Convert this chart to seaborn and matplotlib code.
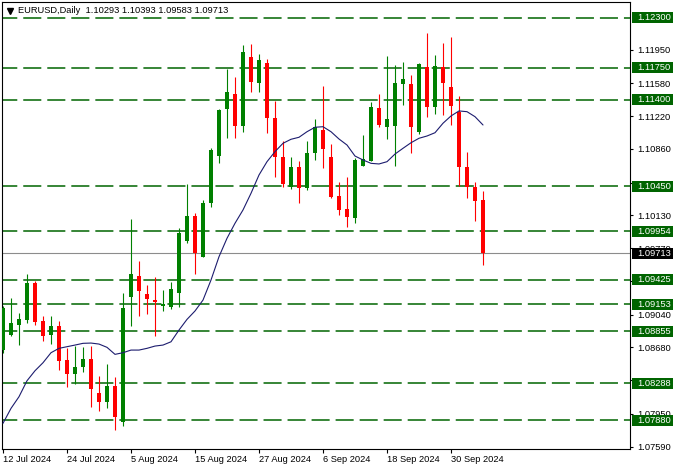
'''EURUSD daily candles with MA and levels'''
import pandas as pd
import matplotlib
matplotlib.use("Agg")
import matplotlib.pyplot as plt
import matplotlib.transforms as mtransforms
from matplotlib.patches import Rectangle
import seaborn as sns

# data (12 Jul 2024 .. 4 Oct 2024)
dates = pd.bdate_range("2024-07-12", "2024-10-04")
opens = [1.08652, 1.08816, 1.08926, 1.08981, 1.09390, 1.08970, 1.08816, 1.08915, 1.08542, 1.08388,
         1.08461, 1.08553, 1.08176, 1.08084, 1.08256, 1.07864, 1.09237, 1.09464, 1.09266, 1.09200,
         1.09135, 1.09127, 1.09280, 1.09851, 1.10123, 1.09676, 1.10262, 1.10785, 1.11294, 1.11462,
         1.11114, 1.11865, 1.11580, 1.11799, 1.11195, 1.10774, 1.10438, 1.10664, 1.10427, 1.10818,
         1.11067, 1.10774, 1.10342, 1.10200, 1.10104, 1.10675, 1.10730, 1.11305, 1.11103, 1.11111,
         1.11575, 1.11572, 1.11048, 1.11755, 1.11323, 1.11755, 1.11536, 1.11268, 1.10664, 1.10444,
         1.10293]
highs = [1.09135, 1.09226, 1.09061, 1.09486, 1.09412, 1.09025, 1.09025, 1.08970, 1.08677, 1.08695,
         1.08681, 1.08695, 1.08366, 1.08498, 1.08358, 1.09274, 1.10090, 1.09632, 1.09365, 1.09450,
         1.09310, 1.09395, 1.09988, 1.10474, 1.10159, 1.10298, 1.10866, 1.11298, 1.11737, 1.11646,
         1.12000, 1.12011, 1.11901, 1.11843, 1.11389, 1.10946, 1.10774, 1.10727, 1.10946, 1.11188,
         1.11550, 1.10913, 1.10493, 1.10554, 1.10756, 1.11012, 1.11371, 1.11462, 1.11879, 1.11781,
         1.11810, 1.11671, 1.11806, 1.12135, 1.11890, 1.12025, 1.12091, 1.11440, 1.10829, 1.10493,
         1.10393]
lows = [1.08615, 1.08805, 1.08706, 1.08945, 1.08926, 1.08753, 1.08717, 1.08432, 1.08248, 1.08278,
        1.08413, 1.08029, 1.07985, 1.08018, 1.07773, 1.07820, 1.08915, 1.09028, 1.09047, 1.08808,
        1.09083, 1.09098, 1.09127, 1.09823, 1.09486, 1.09676, 1.10218, 1.10708, 1.10982, 1.10976,
        1.11048, 1.11487, 1.11487, 1.11037, 1.10548, 1.10444, 1.10416, 1.10262, 1.10410, 1.10738,
        1.10646, 1.10320, 1.10134, 1.10005, 1.10049, 1.10675, 1.10730, 1.11097, 1.10965, 1.10675,
        1.11341, 1.10818, 1.11023, 1.11206, 1.11243, 1.11232, 1.11122, 1.10452, 1.10324, 1.10071,
        1.09583]
closes = [1.09109, 1.08951, 1.08992, 1.09390, 1.08962, 1.08805, 1.08915, 1.08534, 1.08388, 1.08461,
          1.08553, 1.08220, 1.08084, 1.08256, 1.07919, 1.09109, 1.09486, 1.09302, 1.09215, 1.09178,
          1.09156, 1.09321, 1.09933, 1.10123, 1.09720, 1.10269, 1.10847, 1.11287, 1.11484, 1.11114,
          1.11923, 1.11597, 1.11836, 1.11195, 1.10767, 1.10474, 1.10664, 1.10427, 1.10811, 1.11103,
          1.10855, 1.10335, 1.10189, 1.10115, 1.10738, 1.10749, 1.11316, 1.11122, 1.11184, 1.11580,
          1.11624, 1.11103, 1.11792, 1.11323, 1.11770, 1.11580, 1.11334, 1.10664, 1.10438, 1.10291,
          1.09713]
ma = [1.07847, 1.08011, 1.08139, 1.08314, 1.08424, 1.08512, 1.08622, 1.08670, 1.08688, 1.08706,
      1.08725, 1.08728, 1.08717, 1.08681, 1.08604, 1.08622, 1.08651, 1.08651, 1.08670, 1.08695,
      1.08706, 1.08742, 1.08871, 1.08988, 1.09080, 1.09200, 1.09420, 1.09676, 1.09878, 1.10043,
      1.10189, 1.10372, 1.10573, 1.10719, 1.10829, 1.10921, 1.10965, 1.10987, 1.11048, 1.11097,
      1.11103, 1.11048, 1.10968, 1.10902, 1.10781, 1.10738, 1.10701, 1.10694, 1.10719, 1.10803,
      1.10866, 1.10927, 1.10976, 1.11001, 1.11037, 1.11141, 1.11221, 1.11276, 1.11268, 1.11213,
      1.11122]

levels = [1.12300, 1.11750, 1.11400, 1.10450, 1.09954, 1.09425, 1.09153, 1.08855, 1.08288, 1.07880]
price_ticks = [1.11950, 1.11580, 1.11220, 1.10860, 1.10490, 1.10130, 1.09770, 1.09410,
               1.09040, 1.08680, 1.08320, 1.07950, 1.07590]
# scale labels that sit fully under a level box are not drawn
hidden_ticks = [1.10490, 1.09410, 1.08320]
date_ticks = [0, 8, 16, 24, 32, 40, 48, 56]
date_labels = ["12 Jul 2024", "24 Jul 2024", "5 Aug 2024", "15 Aug 2024",
               "27 Aug 2024", "6 Sep 2024", "18 Sep 2024", "30 Sep 2024"]

df = pd.DataFrame({"date": dates, "open": opens, "high": highs, "low": lows,
                   "close": closes, "ma": ma})
df["idx"] = range(len(df))

sns.set_style("white")
plt.rcParams["font.family"] = ["Liberation Sans", "DejaVu Sans"]
plt.rcParams["lines.scale_dashes"] = False

GREEN = "#008000"
RED = "#ff0000"
LEVEL = "#006400"
FS = 6.7

fig = plt.figure(figsize=(6.76, 4.70), dpi=100)
ax = fig.add_axes([2 / 676, 21 / 470, 628 / 676, 447 / 470])
ymin, ymax = 1.07565, 1.12472
ax.set_xlim(-0.125, 78.375)
ax.set_ylim(ymin, ymax)
px = (ymax - ymin) / 447

# levels and current price
for lv in levels:
    ax.axhline(lv, color=LEVEL, lw=1.1, ls=(2, (13, 4.3)), zorder=1)
ax.axhline(closes[-1], color="#8c8c8c", lw=0.8, zorder=1)

# candles
up = df["close"] >= df["open"]
cols = [GREEN if u else RED for u in up]
ax.vlines(df["idx"], df["low"], df["high"], colors=cols, lw=0.8, zorder=2)
body_lo = df[["open", "close"]].min(axis=1)
body_h = (df["close"] - df["open"]).abs().clip(lower=px)
ax.bar(df["idx"], body_h, bottom=body_lo, width=0.62, color=cols, linewidth=0, zorder=3)

# moving average
sns.lineplot(data=df, x="idx", y="ma", ax=ax, color="#1c1c6e", lw=0.8, zorder=4)

# axes styling
for s in ax.spines.values():
    s.set_color("black")
    s.set_linewidth(0.8)
ax.set_xlabel("")
ax.set_ylabel("")
ax.yaxis.tick_right()
ax.set_yticks(price_ticks)
ax.set_yticklabels(["" if v in hidden_ticks else f"{v:.5f}" for v in price_ticks])
ax.set_xticks(date_ticks)
ax.set_xticklabels(date_labels)
for lab in ax.get_xticklabels():
    lab.set_ha("left")
ax.tick_params(axis="y", right=True, left=False, direction="out", length=2.2, width=0.8,
               pad=2.9, labelsize=FS, colors="black")
ax.tick_params(axis="x", bottom=True, direction="out", length=2.9, width=0.8,
               pad=1.2, labelsize=FS, colors="black")

# level labels on the price scale
trans = mtransforms.blended_transform_factory(ax.transAxes, ax.transData)
bx = (632 - 2) / 628
bw = 41 / 628
tx = (637 - 2) / 628
for lv, fc in [(v, LEVEL) for v in levels] + [(closes[-1], "black")]:
    ax.add_patch(Rectangle((bx, lv - 5.5 * px), bw, 11 * px, transform=trans,
                           facecolor=fc, edgecolor="none", clip_on=False, zorder=6))
    ax.text(tx, lv, f"{lv:.5f}", transform=trans, color="white", fontsize=FS,
            ha="left", va="center", clip_on=False, zorder=7)

# header
ax.plot([(9.5 - 2) / 628], [1 - (10.5 - 2) / 447], marker="v", color="black",
        markersize=4, transform=ax.transAxes, clip_on=False)
ax.text((18 - 2) / 628, 1 - (10.7 - 2) / 447,
        "EURUSD,Daily  1.10293 1.10393 1.09583 1.09713",
        transform=ax.transAxes, fontsize=FS, ha="left", va="center", color="black")

fig.savefig("out.png", dpi=100, facecolor="white")
